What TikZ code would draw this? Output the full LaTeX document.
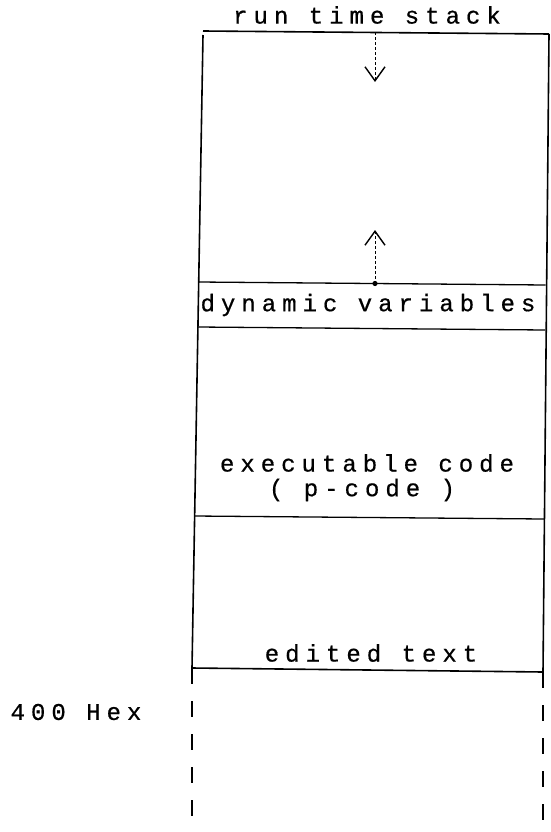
\documentclass[tikz,border=0pt]{standalone}
\usepackage{fontspec}
\setmonofont[LetterSpace=25,FakeBold=0.6]{Liberation Mono}
\usetikzlibrary{arrows.meta}
\begin{document}
\begin{tikzpicture}[x=1pt,y=-1pt,
  wall/.style={line width=1.6pt},
  partline/.style={line width=1.3pt},
  dashwall/.style={line width=1.6pt, dash pattern=on 16pt off 17pt},
  growarrow/.style={line width=0.8pt, dash pattern=on 3pt off 2pt, -{Straight Barb[length=14pt,width=20pt,line width=1.4pt]}},
  lbl/.style={font=\ttfamily\fontsize{24}{26}\selectfont, inner sep=0pt, anchor=center}
]
\useasboundingbox (0,0) rectangle (550,832);
% corners (slightly skewed as in the reference)
\coordinate (tl) at (203,31);
\coordinate (tr) at (549,34);
\coordinate (dl1) at (198.5,282);
\coordinate (dr1) at (545.5,285);
\coordinate (dl2) at (198,327);
\coordinate (dr2) at (545,330);
\coordinate (el) at (194.5,516);
\coordinate (er) at (544,519);
\coordinate (bl) at (192,668);
\coordinate (br) at (543,672);
\coordinate (lend) at (192,832);
\coordinate (rend) at (543,832);
\coordinate (ltop) at (203,35);
% stack arrows
\coordinate (dtop) at (375,32.5);
\coordinate (dend) at (375,82);
\coordinate (ubot) at (375,283.5);
\coordinate (uend) at (375,230);
% frame
\draw[wall] (ltop) -- (bl);
\draw[wall] (tr) -- (br);
\draw[wall] (tl) -- (tr);
\draw[partline] (dl1) -- (dr1);
\draw[partline] (dl2) -- (dr2);
\draw[partline] (el) -- (er);
\draw[wall] (bl) -- (br);
\draw[dashwall] (bl) -- (lend);
\draw[dashwall] (br) -- (rend);
% arrows
\draw[growarrow] (dtop) -- (dend);
\draw[growarrow] (ubot) -- (uend);
\fill (ubot) circle (2.6pt);
% labels
\node[lbl] (rts) at (367,15) {run time stack};
\node[lbl] (dyn) at (368,305) {dynamic variables};
\node[lbl] (exe) at (367,463) {executable code};
\node[lbl] (pc) at (362,490) {( p-code )};
\node[lbl] (edt) at (371,653) {edited text};
\node[lbl] (hex) at (76,712) {400 Hex};
\end{tikzpicture}
\end{document}
